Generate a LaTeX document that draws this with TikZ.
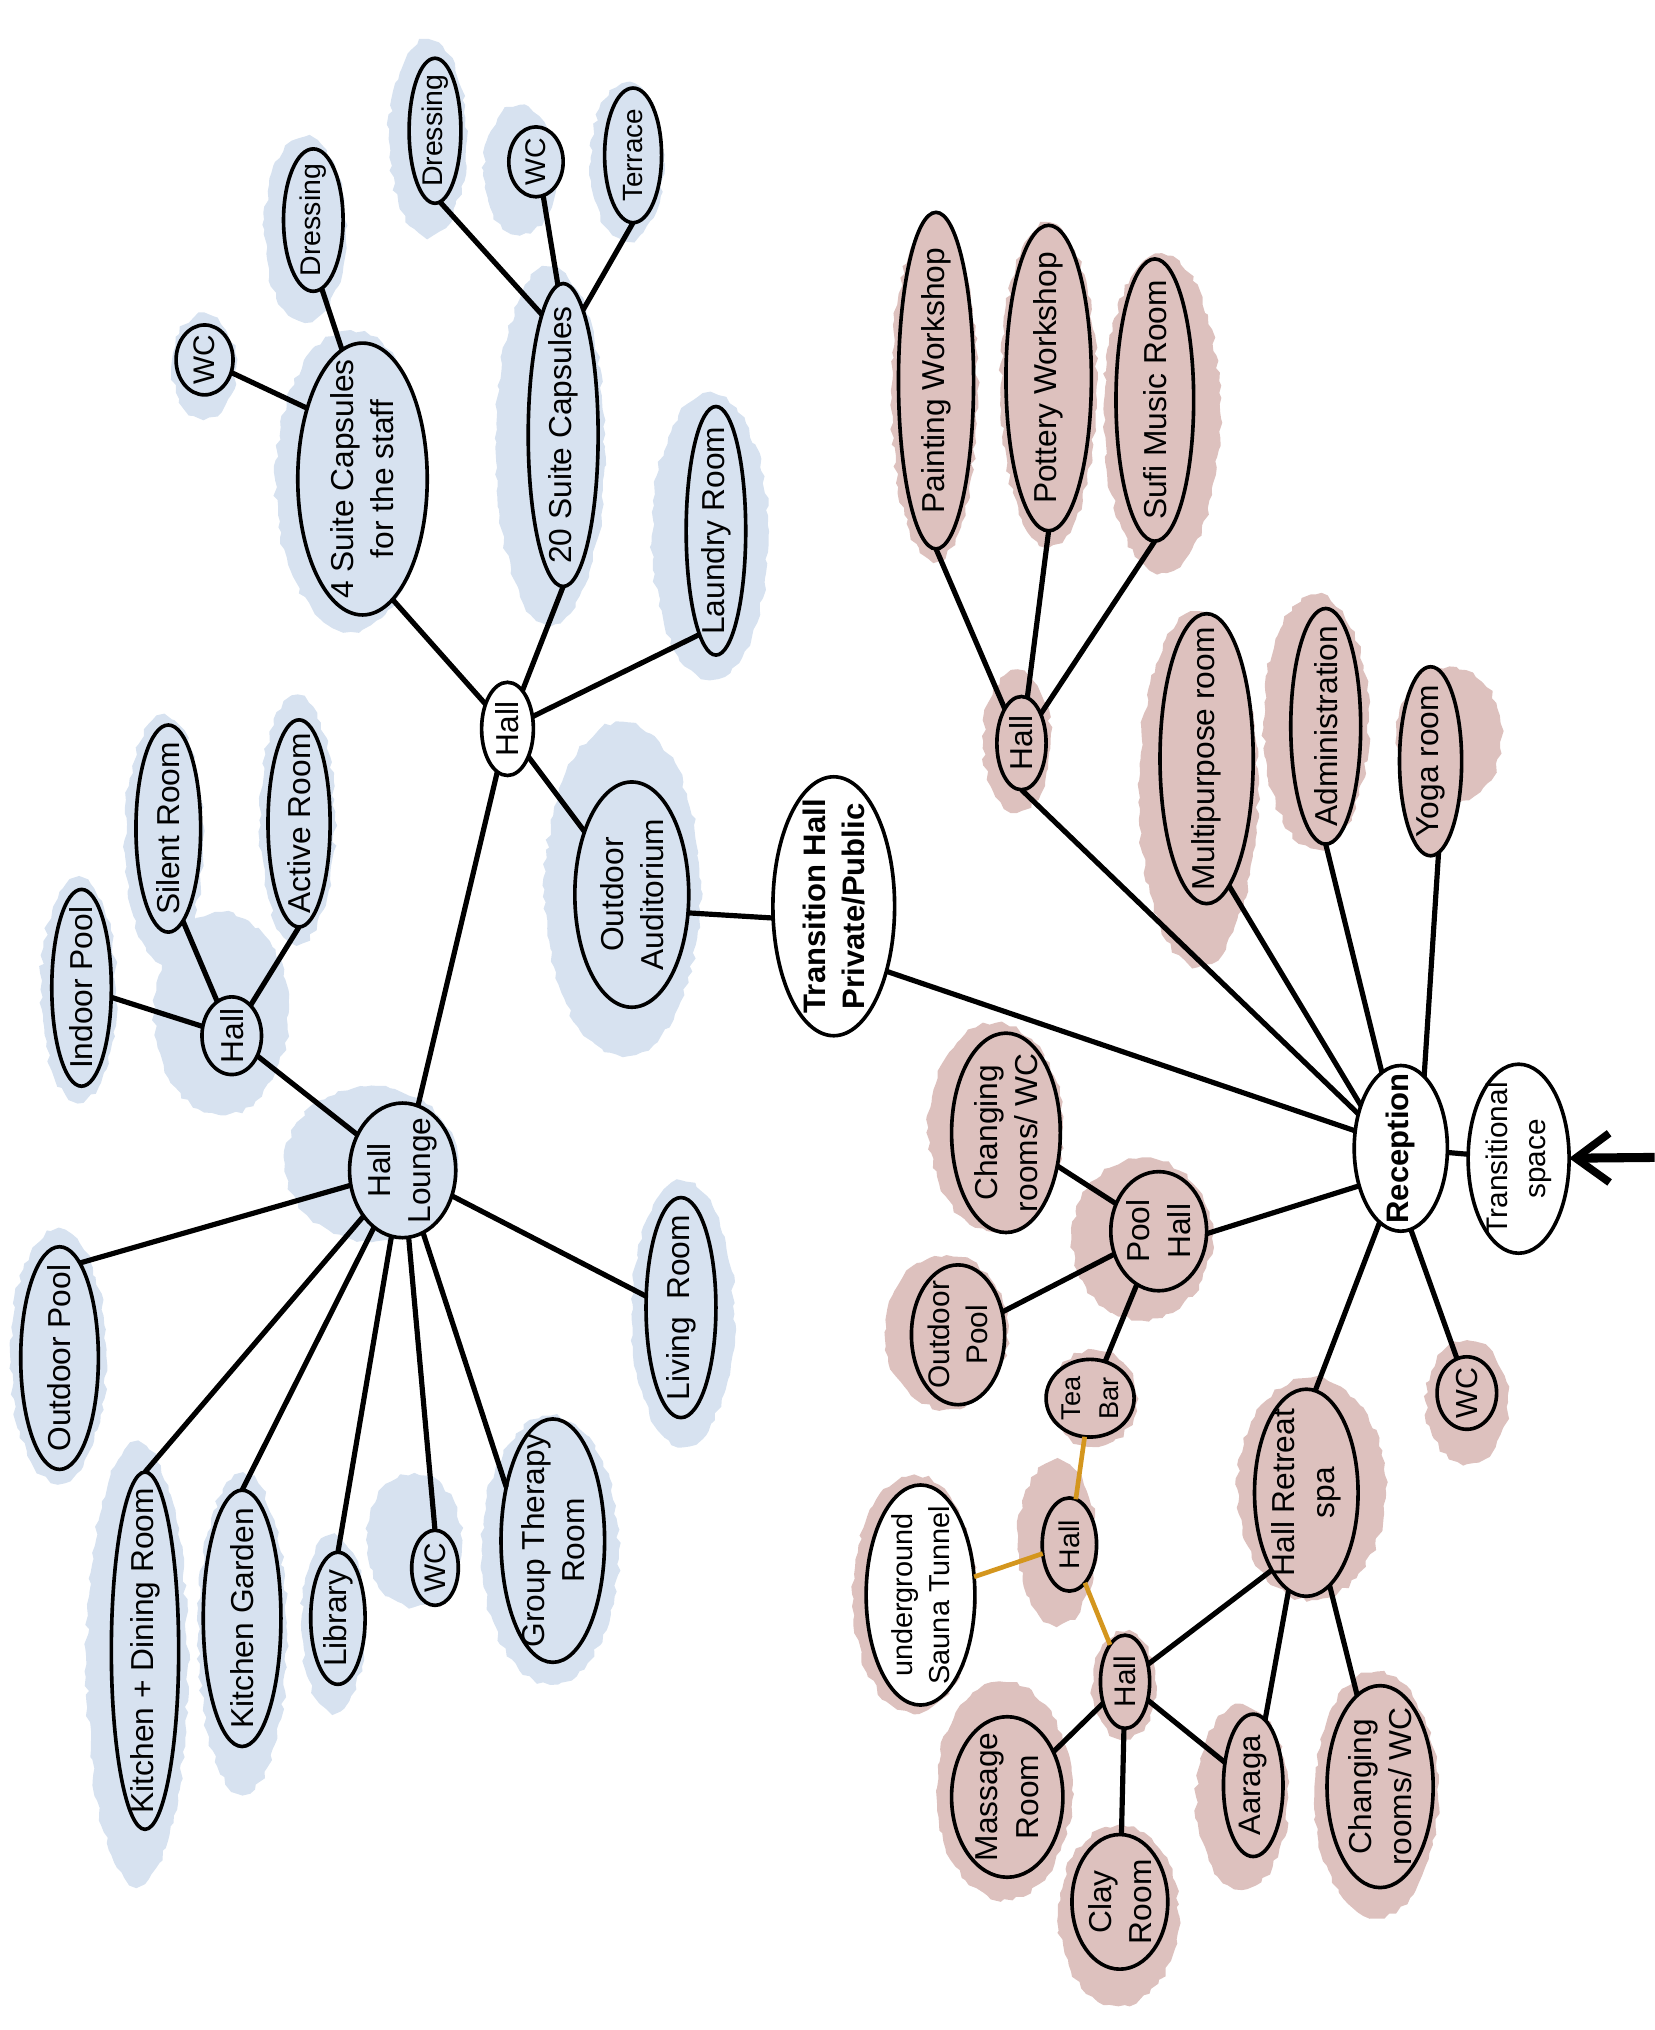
\documentclass[tikz,border=0pt]{standalone}
\usepackage{fontspec}
\setmainfont{Liberation Sans}
\usetikzlibrary{shapes.geometric,decorations.pathmorphing,arrows.meta}
\definecolor{bl}{RGB}{215,226,240}
\definecolor{pk}{RGB}{221,193,190}
\definecolor{org}{RGB}{212,150,30}
\tikzset{
 room/.style={ellipse, draw=black, line width=2.8pt, inner sep=-150pt, outer sep=0pt, rotate=90, align=center, font=\fontsize{24.5}{31}\selectfont},
 bnode/.style={room, fill=bl},
 pnode/.style={room, fill=pk},
 wnode/.style={room, fill=white},
 fsz/.style={font=\fontsize{#1}{29}\selectfont},
 boldtxt/.style={font=\fontsize{24}{30}\selectfont\bfseries},
 conn/.style={line width=4pt, draw=black},
 oconn/.style={line width=3.6pt, draw=org},
 blobdeco/.style={decorate, decoration={random steps, segment length=5pt, amplitude=1.8pt}},
 inarrow/.style={line width=7pt, -{Straight Barb[length=26pt, width=38pt, line width=6pt]}}
}
\newcommand\rnode[7]{\node[#1, minimum width=2*#6pt, minimum height=2*#5pt] (#2) at (#3,#4) {#7};}
\newcommand\blob[5]{\fill[#1, blobdeco] ({(#2+#3)/2},{(#4+#5)/2}) ellipse [x radius={(#3-#2)*0.53pt}, y radius={(#5-#4)*0.53pt}];}
\begin{document}
\begin{tikzpicture}[x=1pt,y=-1pt]
\useasboundingbox (0,0) rectangle (1278,1568);
\pgfmathsetseed{42}
% blobs blue
\blob{bl}{134}{181}{245}{321}
\blob{bl}{206}{265}{110}{245}
\blob{bl}{216}{326}{262}{481}
\blob{bl}{302}{359}{36}{179}
\blob{bl}{375}{428}{84}{179}
\blob{bl}{458}{511}{67}{183}
\blob{bl}{385}{465}{214}{476}
\blob{bl}{506}{591}{310}{518}
\blob{bl}{424}{538}{565}{809}
\blob{bl}{98}{155}{558}{739}
\blob{bl}{202}{257}{543}{724}
\blob{bl}{33}{88}{683}{846}
\blob{bl}{122}{220}{709}{857}
\blob{bl}{224}{350}{842}{956}
\blob{bl}{490}{565}{918}{1112}
\blob{bl}{10}{80}{955}{1140}
\blob{bl}{69}{143}{1124}{1447}
\blob{bl}{155}{220}{1145}{1379}
\blob{bl}{234}{281}{1190}{1319}
\blob{bl}{285}{355}{1141}{1238}
\blob{bl}{375}{475}{1100}{1295}
% blobs pink
\blob{pk}{690}{753}{178}{426}
\blob{pk}{775}{845}{180}{415}
\blob{pk}{855}{940}{203}{435}
\blob{pk}{761}{810}{521}{624}
\blob{pk}{882}{969}{480}{739}
\blob{pk}{978}{1055}{465}{650}
\blob{pk}{1081}{1158}{518}{618}
\blob{pk}{720}{818}{795}{947}
\blob{pk}{831}{933}{898}{1016}
\blob{pk}{686}{776}{973}{1085}
\blob{pk}{812}{877}{1045}{1115}
\blob{pk}{788}{845}{1131}{1252}
\blob{pk}{661}{751}{1145}{1318}
\blob{pk}{845}{892}{1263}{1341}
\blob{pk}{959}{1067}{1069}{1231}
\blob{pk}{1103}{1163}{1038}{1128}
\blob{pk}{726}{825}{1304}{1462}
\blob{pk}{820}{908}{1414}{1545}
\blob{pk}{926}{993}{1321}{1455}
\blob{pk}{1018}{1108}{1297}{1476}
% nodes blue
\rnode{bnode,fsz=23}{wcA}{158}{278}{22}{27}{WC}
\rnode{bnode,fsz=22}{drA}{242}{170}{23}{55}{Dressing}
\rnode{bnode}{suA}{280}{370}{50}{105}{4 Suite Capsules\\for the staff}
\rnode{bnode,fsz=22}{drB}{336}{101}{20}{56}{Dressing}
\rnode{bnode,fsz=22}{wcB}{414}{125}{21}{27}{WC}
\rnode{bnode,fsz=21.5}{ter}{489}{120}{22}{52}{Terrace}
\rnode{bnode}{suB}{435}{336}{27}{117}{20 Suite Capsules}
\rnode{bnode}{lau}{553}{410}{23}{96}{Laundry Room}
\rnode{wnode}{hT}{392}{563}{20}{36}{Hall}
\rnode{bnode}{aud}{488}{691}{44}{87}{Outdoor\\Auditorium}
\rnode{wnode,boldtxt}{th}{644}{700}{47}{100}{Transition Hall\\Private/Public}
\rnode{bnode}{sil}{130}{640}{25}{80}{Silent Room}
\rnode{bnode}{act}{231}{636}{24}{80}{Active Room}
\rnode{bnode}{ipo}{63}{763}{23}{76}{Indoor Pool}
\rnode{bnode}{hL}{179}{800}{23}{30}{Hall}
\rnode{bnode}{lou}{311}{904}{41}{52}{Hall\\Lounge}
\rnode{bnode}{liv}{526}{1010}{27}{85}{Living\ \ Room}
\rnode{bnode}{opo}{46}{1049}{30}{86}{Outdoor Pool}
\rnode{bnode}{kd}{112}{1275}{26}{138}{Kitchen + Dining Room}
\rnode{bnode}{kg}{187}{1250}{30}{99}{Kitchen Garden}
\rnode{bnode}{lib}{261}{1250}{21}{51}{Library}
\rnode{bnode,fsz=23}{wcC}{336}{1211}{18}{29}{WC}
\rnode{bnode}{gtr}{427}{1190}{40}{94}{Group Therapy\\Room}
% nodes pink
\rnode{pnode}{pw}{723}{294}{29}{130}{Painting Workshop}
\rnode{pnode}{ptw}{810}{292}{33}{118}{Pottery Workshop}
\rnode{pnode}{sm}{892}{309}{30}{109}{Sufi Music Room}
\rnode{pnode}{hP}{789}{574}{19}{36}{Hall}
\rnode{pnode}{mp}{932}{586}{36}{112}{Multipurpose room}
\rnode{pnode}{adm}{1024}{561}{27}{91}{Administration}
\rnode{pnode}{yog}{1105}{588}{24}{73}{Yoga room}
\rnode{wnode,boldtxt}{rec}{1082}{887}{36}{64}{Reception}
\rnode{wnode,fsz=23}{ts}{1173}{895}{39}{73}{Transitional\\space}
\rnode{pnode}{cr1}{777}{875}{42}{77}{Changing\\rooms/ WC}
\rnode{pnode}{ph}{895}{951}{37}{46}{Pool\\Hall}
\rnode{pnode,fsz=23}{op2}{740}{1031}{36}{54}{Outdoor\\Pool}
\rnode{pnode,fsz=21}{tb}{842}{1080}{34}{30}{Tea\\Bar}
\rnode{pnode,fsz=22}{hS}{826}{1193}{21}{36}{Hall}
\rnode{wnode,fsz=22.3}{ust}{711}{1232}{42}{85}{underground\\Sauna Tunnel}
\rnode{pnode,fsz=23}{hB}{869}{1299}{19}{36}{Hall}
\rnode{pnode}{hrs}{1009}{1153}{40}{80}{Hall Retreat\\spa}
\rnode{pnode,fsz=23.5}{wcD}{1133}{1076}{23}{28}{WC}
\rnode{pnode}{mr}{778}{1388}{43}{62}{Massage\\Room}
\rnode{pnode}{cl}{865}{1469}{37}{52}{Clay\\Room}
\rnode{pnode,fsz=24}{aar}{968}{1379}{23}{55}{Aaraga}
\rnode{pnode}{cr2}{1066}{1380}{41}{78}{Changing\\rooms/ WC}
% connectors blue
\draw[conn] (hT) -- (suA.194);
\draw[conn] (hT) -- (suB.west);
\draw[conn] (hT) -- (lau.171);
\draw[conn] (hT) -- (aud);
\draw[conn] (hT) -- (lou);
\draw[conn] (suA.38) -- (wcA);
\draw[conn] (suA.9) -- (drA.187);
\draw[conn] (suB.10) -- (drB.184);
\draw[conn] (suB.2) -- (wcB.192);
\draw[conn] (suB.351) -- (ter.west);
\draw[conn] (aud.252) -- (th.101);
\draw[conn] (th.219) -- (rec.69);
\draw[conn] (lou) -- (hL);
\draw[conn] (hL) -- (sil.189);
\draw[conn] (hL) -- (act.west);
\draw[conn] (hL) -- (ipo);
\draw[conn] (lou) -- (opo.348);
\draw[conn] (lou) -- (kd.east);
\draw[conn] (lou) -- (kg.east);
\draw[conn] (lou) -- (lib.east);
\draw[conn] (lou) -- (wcC.east);
\draw[conn] (lou) -- (gtr.41);
\draw[conn] (lou) -- (liv.72);
% connectors pink
\draw[conn] (rec.51) -- (hP.west);
\draw[conn] (rec.43) -- (mp.190);
\draw[conn] (rec.14) -- (adm.west);
\draw[conn] (rec.342) -- (yog.185);
\draw[conn] (rec) -- (ts);
\draw[conn] (rec.132) -- (ph.267);
\draw[conn] (rec.164) -- (hrs.355);
\draw[conn] (rec.187) -- (wcD.16);
\draw[conn] (hP.26) -- (pw.west);
\draw[conn] (hP) -- (ptw.west);
\draw[conn] (hP) -- (sm.west);
\draw[conn] (ph) -- (cr1);
\draw[conn] (ph) -- (op2);
\draw[conn] (ph) -- (tb);
\draw[oconn] (tb) -- (hS);
\draw[oconn] (hS) -- (ust);
\draw[oconn] (hS) -- (hB);
\draw[conn] (hB) -- (hrs.156);
\draw[conn] (hB) -- (mr);
\draw[conn] (hB) -- (cl);
\draw[conn] (hB) -- (aar);
\draw[conn] (hrs) -- (aar);
\draw[conn] (hrs) -- (cr2);
\coordinate (ain) at (1278,894);
\draw[inarrow] (ain) -- (ts);
\end{tikzpicture}
\end{document}
